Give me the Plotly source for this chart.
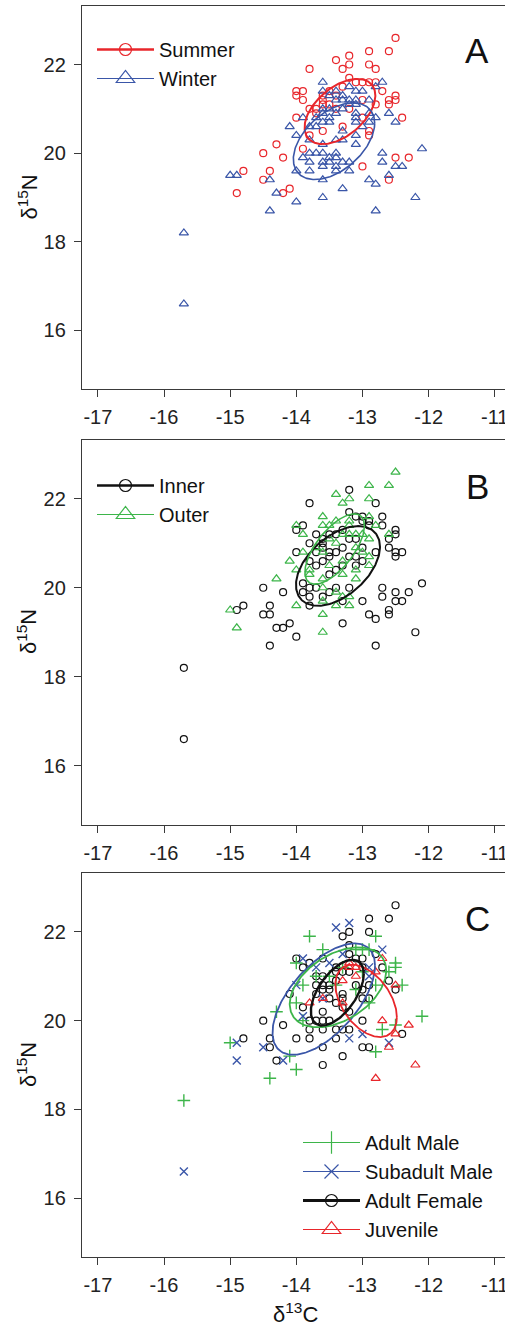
import numpy as np
import plotly.graph_objects as go

# ---------------- data (delta13C, delta15N) ----------------
summer_x = [-12.5, -13.2, -12.9, -12.6, -13.4, -13.2, -12.9, -13.3, -12.8, -13.8, -13.2, -13.1, -13.0, -12.9,
            -12.7, -14.0, -14.0, -13.9, -13.9, -12.5, -12.6, -12.5, -12.6, -14.0, -12.4, -13.8, -13.6, -13.3,
            -12.9, -12.9, -13.9, -14.3, -14.5, -14.2, -12.5, -12.3, -13.0, -14.8, -14.4, -14.5, -12.6, -14.9,
            -14.2, -14.1, -13.6, -13.5, -13.4, -13.3, -12.8, -13.8, -13.7, -13.5, -13.0, -13.6, -13.7, -12.8,
            -13.6, -13.2, -13.0, -13.4]
summer_y = [22.6, 22.2, 22.3, 22.3, 22.1, 22.0, 22.0, 21.9, 21.9, 21.9, 21.7, 21.6, 21.6, 21.6,
            21.4, 21.4, 21.3, 21.4, 21.2, 21.3, 21.2, 21.2, 21.1, 20.8, 20.8, 20.4, 20.5, 20.6,
            20.5, 20.4, 20.1, 20.2, 20.0, 19.9, 19.9, 19.9, 19.7, 19.6, 19.6, 19.4, 19.4, 19.1,
            19.1, 19.2, 21.2, 21.1, 21.3, 21.5, 21.1, 21.0, 21.0, 21.4, 21.2, 21.1, 20.9, 21.6,
            21.3, 21.0, 20.8, 21.0]

winter_x = [-15.7, -15.7, -15.0, -14.9, -14.4, -14.3, -14.4, -14.0, -13.6, -13.3, -12.9, -12.8, -12.8, -12.2,
            -12.1, -12.7, -12.7, -12.6, -12.5, -12.4, -12.6, -12.5, -14.1, -14.0, -13.9, -14.0, -13.8, -13.9,
            -13.8, -13.7, -13.6, -13.5, -13.4, -13.8, -13.6, -13.5, -13.4, -13.3, -13.2, -13.4, -13.6, -13.4,
            -13.2, -13.6, -13.8, -13.6, -13.4, -13.3, -13.1, -13.1, -13.6, -13.2, -13.4, -13.1, -13.0, -12.8,
            -12.7, -13.4, -13.3, -13.2, -13.1, -13.2, -13.1, -13.6, -13.5, -13.7, -13.6, -13.5, -13.4, -13.1,
            -13.1, -13.1, -12.9, -12.8, -13.8, -13.3, -13.0, -13.6, -13.5, -13.3, -12.9, -13.6, -13.5, -13.3,
            -12.9, -13.7]
winter_y = [18.2, 16.6, 19.5, 19.5, 19.4, 19.1, 18.7, 18.9, 19.0, 19.2, 19.4, 19.3, 18.7, 19.0,
            20.1, 20.0, 19.8, 19.5, 19.7, 19.7, 20.9, 20.7, 20.6, 20.4, 20.8, 19.6, 19.6, 19.9,
            20.0, 20.0, 20.0, 19.9, 20.0, 19.8, 19.8, 19.8, 19.9, 19.8, 19.8, 19.7, 19.7, 19.6,
            19.6, 19.4, 20.3, 20.2, 20.3, 20.3, 20.4, 20.2, 21.6, 21.5, 21.4, 21.4, 21.4, 21.5,
            21.6, 21.2, 21.2, 21.2, 21.2, 21.1, 21.1, 21.0, 21.0, 20.8, 20.9, 20.8, 20.9, 20.9,
            20.8, 20.7, 20.9, 20.8, 20.6, 20.5, 20.6, 20.7, 20.7, 21.0, 21.2, 21.4, 21.3, 21.3,
            20.7, 20.6]

inner_x = [-15.7, -15.7, -14.9, -14.8, -14.5, -14.4, -14.5, -14.4, -14.3, -14.2, -14.1, -14.4, -14.0, -14.2,
           -13.3, -13.0, -12.9, -12.8, -12.8, -12.7, -12.7, -12.6, -12.6, -12.5, -12.5, -12.4, -12.3, -12.2,
           -12.1, -12.6, -12.5, -12.5, -12.4, -12.5, -12.5, -12.6, -12.7, -12.7, -12.8, -13.2, -13.8, -14.0,
           -13.9, -14.0, -13.0, -12.8, -12.9, -13.2, -13.9, -13.8, -13.9, -13.8, -13.7, -13.6, -13.5, -13.4,
           -13.8, -13.7, -13.6, -13.5, -13.4, -13.3, -13.2, -13.1, -13.0, -12.9, -13.1, -13.0, -13.7, -13.6,
           -13.5, -13.4, -13.6, -13.5, -13.3, -13.2, -13.8, -13.6, -13.1, -13.0, -13.3, -13.8, -13.7, -13.5,
           -13.4, -13.1, -13.2, -13.3]
inner_y = [18.2, 16.6, 19.5, 19.6, 20.0, 19.6, 19.4, 19.4, 19.1, 19.1, 19.2, 18.7, 18.9, 19.9,
           19.2, 19.7, 19.4, 19.3, 18.7, 20.0, 19.8, 19.5, 19.4, 19.9, 19.7, 19.7, 19.9, 19.0,
           20.1, 20.9, 20.8, 20.7, 20.8, 21.3, 21.2, 21.1, 21.6, 21.4, 21.9, 22.2, 21.9, 21.3,
           21.4, 20.8, 20.6, 20.8, 21.5, 21.7, 20.1, 20.0, 19.9, 19.8, 20.0, 19.8, 19.9, 20.0,
           19.6, 21.2, 21.1, 21.2, 21.2, 21.3, 21.1, 21.1, 21.5, 21.4, 21.6, 21.6, 20.8, 20.9,
           20.8, 20.8, 20.6, 20.7, 20.5, 20.7, 21.0, 21.0, 20.7, 20.9, 20.9, 20.6, 20.5, 20.3,
           20.4, 20.5, 20.0, 19.7]

outer_x = [-12.5, -12.9, -12.6, -13.4, -13.3, -13.2, -12.9, -13.6, -13.2, -14.0, -13.9, -13.6, -13.5, -13.4,
           -13.3, -13.2, -13.1, -13.0, -12.9, -12.8, -12.9, -12.6, -14.1, -13.9, -14.0, -13.8, -13.8, -14.3,
           -13.6, -13.5, -13.3, -13.3, -13.1, -13.1, -12.9, -12.9, -13.4, -13.3, -13.2, -13.6, -13.6, -14.0,
           -13.4, -13.2, -13.6, -13.6, -15.0, -14.9, -13.4, -13.1, -13.7, -13.5, -13.0, -13.6, -13.2]
outer_y = [22.6, 22.3, 22.3, 22.1, 21.9, 22.0, 22.0, 21.6, 21.5, 21.4, 21.2, 21.4, 21.4, 21.5,
           21.2, 21.2, 21.2, 21.2, 21.6, 21.4, 21.1, 21.2, 20.6, 20.8, 20.4, 20.4, 20.3, 20.2,
           20.2, 20.5, 20.6, 20.3, 20.4, 20.2, 20.7, 20.5, 19.9, 19.8, 19.8, 20.0, 19.7, 19.6,
           19.6, 19.6, 19.4, 19.0, 19.5, 19.1, 21.0, 20.9, 20.9, 21.1, 20.8, 20.8, 21.4]

amale_x = [-15.7, -15.0, -14.4, -14.0, -14.1, -14.3, -14.0, -13.9, -14.0, -13.8, -13.6, -12.8, -13.0, -13.1,
           -12.9, -12.5, -12.5, -12.6, -12.4, -12.8, -12.9, -12.7, -12.5, -12.8, -12.1, -13.7, -13.9, -13.4,
           -13.1, -13.5, -13.3, -13.0]
amale_y = [18.2, 19.5, 18.7, 18.9, 19.2, 20.2, 20.4, 20.8, 21.3, 21.9, 21.6, 21.9, 21.6, 21.6,
           21.6, 21.3, 21.2, 21.1, 20.8, 20.8, 20.4, 19.8, 19.9, 19.3, 20.1, 21.0, 20.0, 20.8,
           20.7, 21.0, 21.2, 21.1]

submale_x = [-15.7, -14.9, -14.9, -14.5, -14.2, -13.9, -13.9, -13.4, -13.2, -12.7, -12.9, -13.2, -13.0, -12.6,
             -13.6, -14.0, -13.3, -13.7, -13.5, -12.9]
submale_y = [16.6, 19.5, 19.1, 19.4, 19.1, 20.1, 21.4, 22.1, 22.2, 21.6, 21.2, 19.6, 19.7, 19.5,
             20.5, 20.8, 21.5, 21.2, 21.3, 21.0]

afemale_x = [-12.5, -12.6, -12.9, -13.2, -12.9, -13.3, -13.2, -14.0, -13.9, -13.6, -13.0, -12.7, -12.6, -12.5,
             -14.1, -14.5, -14.2, -14.8, -14.4, -14.4, -14.3, -14.0, -13.8, -13.6, -13.6, -13.3, -12.9, -13.4,
             -13.2, -13.4, -12.4, -13.8, -13.7, -13.6, -13.5, -13.6, -13.8, -13.6, -13.3, -13.3, -13.3, -13.5,
             -13.7, -13.7, -13.6, -13.5, -13.6, -13.5, -13.7, -13.6, -13.4, -13.3, -13.2, -13.4, -13.0, -13.1,
             -13.2, -12.9, -13.0, -13.0, -12.9, -13.1, -13.4, -13.4, -13.2, -13.0, -13.3, -13.8, -13.9, -12.8,
             -13.0]
afemale_y = [22.6, 22.3, 22.3, 22.0, 22.0, 21.9, 21.7, 21.4, 21.2, 21.4, 21.4, 21.2, 20.9, 20.7,
             20.6, 20.0, 19.9, 19.6, 19.6, 19.4, 19.1, 19.6, 19.6, 19.4, 19.0, 19.2, 19.4, 19.6,
             19.8, 19.8, 19.7, 20.0, 20.0, 20.0, 20.0, 19.8, 19.8, 20.2, 20.3, 20.6, 20.5, 20.5,
             20.6, 20.8, 20.8, 20.8, 20.7, 20.7, 21.0, 21.0, 21.1, 21.1, 21.1, 21.2, 21.2, 21.4,
             21.5, 20.8, 20.7, 20.5, 20.5, 20.8, 20.9, 20.4, 20.2, 20.0, 19.8, 21.3, 20.3, 21.5,
             19.4]

juv_x = [-12.7, -12.8, -13.2, -13.1, -13.1, -13.3, -13.3, -13.8, -13.6, -12.5, -12.7, -12.3, -12.5, -12.6,
         -12.2, -12.8, -13.2]
juv_y = [21.4, 21.1, 21.2, 21.2, 21.0, 20.9, 20.4, 20.4, 20.5, 20.8, 20.0, 19.9, 19.7, 19.4,
         19.0, 18.7, 21.3]

# standard ellipses: centre x, centre y, sd x, sd y, correlation
ell_summer = [-13.34, 20.94, 0.535, 0.735, 0.49]
ell_winter = [-13.43, 20.27, 0.615, 0.865, 0.47]
ell_inner = [-13.37, 20.49, 0.635, 0.895, 0.48]
ell_outer = [-13.42, 20.87, 0.45, 0.79, 0.66]
ell_amale = [-13.37, 20.75, 0.73, 0.90, 0.42]
ell_submale = [-13.585, 20.485, 0.775, 1.255, 0.60]
ell_afemale = [-13.38, 20.63, 0.40, 0.74, 0.57]
ell_juv = [-12.945, 20.445, 0.465, 0.815, -0.45]

x_ticks = [-17, -16, -15, -14, -13, -12, -11]
y_ticks = [16, 18, 20, 22]
panel_letters = ["A", "B", "C"]

# ---------------- styling ----------------
RED = "#E8262B"
BLUE = "#3A56A8"
GREEN = "#3DB54A"
BLACK = "#111111"
FONT = "Liberation Sans"
AXC = "#3a3a3a"

W, H = 505, 1326
ML = 82
PW = W - ML
x_range = [-17.24, -10.845]
y_range = [14.68, 23.32]
doms = [[1 - 389 / H, 1 - 6 / H], [1 - 824.5 / H, 1 - 440 / H], [1 - 1256.7 / H, 1 - 873.3 / H]]

fig = go.Figure()


def ellipse_pts(p, n=200):
    cx, cy, sx, sy, r = p
    t = np.linspace(0, 2 * np.pi, n)
    ex = cx + sx * np.cos(t)
    ey = cy + r * sy * np.cos(t) + sy * np.sqrt(1 - r * r) * np.sin(t)
    return ex, ey


def add_points(k, xs, ys, symbol, color, size, lw=1.2):
    fig.add_trace(go.Scatter(x=xs, y=ys, mode="markers", xaxis="x" + k, yaxis="y" + k,
                             marker=dict(symbol=symbol, size=size, color=color,
                                         line=dict(color=color, width=lw)),
                             showlegend=False, hoverinfo="skip"))


def add_ellipse(k, p, color, w):
    ex, ey = ellipse_pts(p)
    fig.add_trace(go.Scatter(x=ex, y=ey, mode="lines", xaxis="x" + k, yaxis="y" + k,
                             line=dict(color=color, width=w), showlegend=False, hoverinfo="skip"))


def add_legend(k, leg, name, symbol, color, size, lw, mlw=1.2):
    fig.add_trace(go.Scatter(x=[None], y=[None], mode="lines+markers", xaxis="x" + k, yaxis="y" + k,
                             name=name, legend=leg, legendgroup=name,
                             marker=dict(symbol=symbol, size=size, color=color,
                                         line=dict(color=color, width=mlw)),
                             line=dict(color=color, width=lw)))


# Panel A
add_points("", summer_x, summer_y, "circle-open", RED, 7)
add_points("", winter_x, winter_y, "triangle-up-open", BLUE, 8)
add_ellipse("", ell_summer, RED, 2)
add_ellipse("", ell_winter, BLUE, 1.6)
add_legend("", "legend", "Summer", "circle-open", RED, 12, 2.5)
add_legend("", "legend", "Winter", "triangle-up-open", BLUE, 16, 1)

# Panel B
add_points("2", inner_x, inner_y, "circle-open", BLACK, 7)
add_points("2", outer_x, outer_y, "triangle-up-open", GREEN, 8)
add_ellipse("2", ell_inner, BLACK, 2)
add_ellipse("2", ell_outer, GREEN, 1.6)
add_legend("2", "legend2", "Inner", "circle-open", BLACK, 12, 2.5)
add_legend("2", "legend2", "Outer", "triangle-up-open", GREEN, 16, 1)

# Panel C
add_points("3", afemale_x, afemale_y, "circle-open", BLACK, 7)
add_points("3", amale_x, amale_y, "cross-thin-open", GREEN, 9, 1.4)
add_points("3", submale_x, submale_y, "x-thin-open", BLUE, 8, 1.4)
add_points("3", juv_x, juv_y, "triangle-up-open", RED, 8)
add_ellipse("3", ell_submale, BLUE, 1.8)
add_ellipse("3", ell_amale, GREEN, 1.8)
add_ellipse("3", ell_juv, RED, 1.8)
add_ellipse("3", ell_afemale, BLACK, 2.4)
add_legend("3", "legend3", "Adult Male", "cross-thin-open", GREEN, 16, 1, 1.2)
add_legend("3", "legend3", "Subadult Male", "x-thin-open", BLUE, 14, 1, 1.2)
add_legend("3", "legend3", "Adult Female", "circle-open", BLACK, 12, 3)
add_legend("3", "legend3", "Juvenile", "triangle-up-open", RED, 16, 1)

axis_common = dict(showgrid=False, zeroline=False, showline=True, linecolor=AXC, linewidth=1.3,
                   ticks="outside", ticklen=7, tickwidth=1.2, tickcolor=AXC, automargin=False,
                   ticklabeloverflow="allow",
                   tickfont=dict(family=FONT, size=20, color="#222"))

layout = dict(width=W, height=H, margin=dict(l=ML, r=0, t=0, b=0, autoexpand=False),
              paper_bgcolor="white", plot_bgcolor="white", showlegend=True)

for i, k in enumerate(["", "2", "3"]):
    layout["xaxis" + k] = dict(axis_common, domain=[0, 1], range=x_range, tickvals=x_ticks,
                               ticktext=[str(v) for v in x_ticks], mirror=True,
                               ticklabelstandoff=3, anchor="y" + k)
    layout["yaxis" + k] = dict(axis_common, domain=doms[i], range=y_range, tickvals=y_ticks,
                               ticktext=[str(v) for v in y_ticks], ticklabelstandoff=4,
                               anchor="x" + k)

leg_common = dict(font=dict(family=FONT, size=20, color="#111"), bgcolor="rgba(0,0,0,0)",
                  itemwidth=57, tracegroupgap=0, xanchor="left", yanchor="top",
                  itemclick=False, itemdoubleclick=False)
layout["legend"] = dict(leg_common, x=(92 - ML) / PW, y=1 - 30 / H)
layout["legend2"] = dict(leg_common, x=(92 - ML) / PW, y=1 - 466 / H)
layout["legend3"] = dict(leg_common, x=(298 - ML) / PW, y=1 - 1123 / H)

annotations = []
for i, yc in enumerate([51, 486.7, 918]):
    annotations.append(dict(text=panel_letters[i], xref="paper", yref="paper", x=(477 - ML) / PW,
                            y=1 - yc / H, xanchor="center", yanchor="middle", showarrow=False,
                            font=dict(family=FONT, size=35, color="#111")))
for yc in [197.5, 632, 1065]:
    annotations.append(dict(text="δ<sup>15</sup>N", xref="paper", yref="paper", x=(27 - ML) / PW,
                            y=1 - yc / H, xanchor="center", yanchor="middle", showarrow=False,
                            textangle=-90, font=dict(family=FONT, size=22, color="#111")))
annotations.append(dict(text="δ<sup>13</sup>C", xref="paper", yref="paper", x=(295 - ML) / PW,
                        y=1 - 1313 / H, xanchor="center", yanchor="middle", showarrow=False,
                        font=dict(family=FONT, size=22, color="#111")))
layout["annotations"] = annotations

fig.update_layout(**layout)
fig.write_html("out.html", config={"displayModeBar": False},
               post_script="document.body.style.margin='0';document.body.style.overflow='hidden';")
